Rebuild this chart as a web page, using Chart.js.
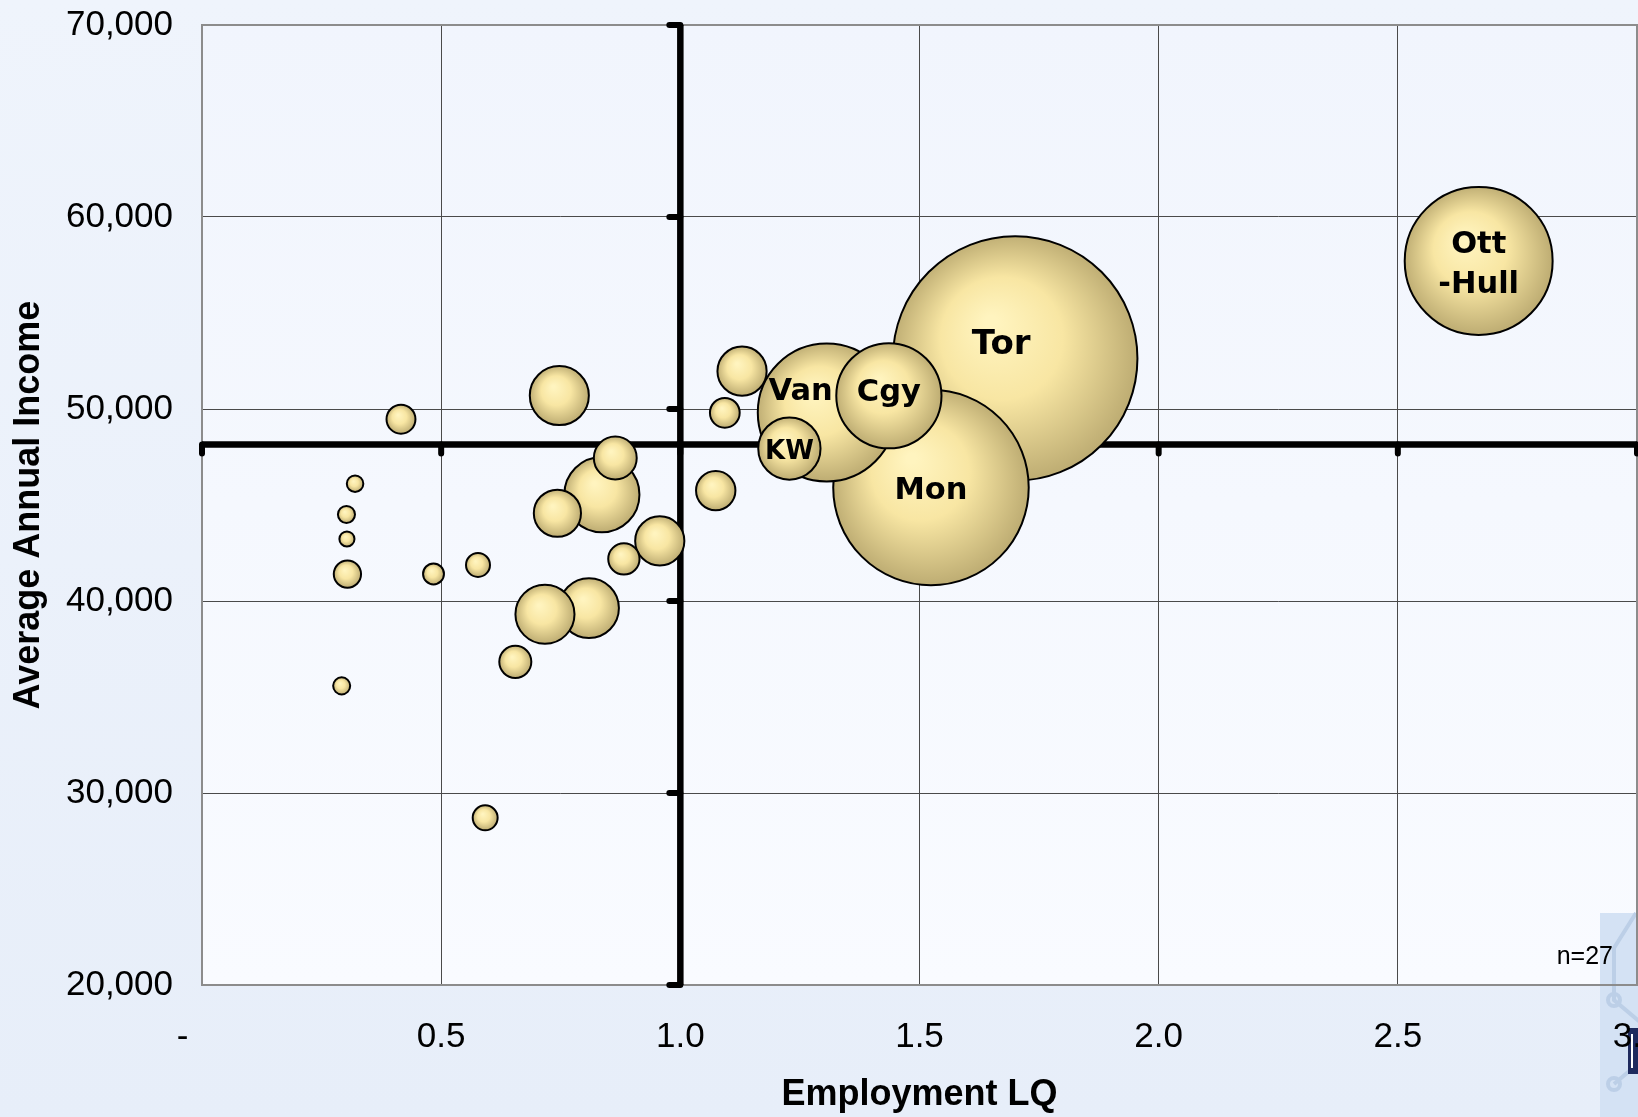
<!DOCTYPE html>
<html>
<head>
<meta charset="utf-8">
<title>Employment LQ vs Average Annual Income</title>
<script src="https://cdn.jsdelivr.net/npm/chart.js@4.4.1/dist/chart.umd.min.js"></script>
<style>
  html, body { margin: 0; padding: 0; }
  body {
    width: 1638px; height: 1117px; overflow: hidden;
    background: linear-gradient(to bottom, #eff4fc 0%, #e7eef9 100%);
  }
  #wrap { position: relative; width: 1638px; height: 1117px; overflow: hidden; }
  #wrap canvas { position: absolute; left: 0; top: 0; }
</style>
</head>
<body>
<div id="wrap"><canvas id="lqChart" width="1700" height="1117"></canvas></div>
<script>
// Metro areas: location quotient, average income, employment (bubble area)
const areaNames = ['Tor', 'Mon', 'Ott\n-Hull', 'Van', 'Cgy', 'KW', '', '', '', '', '', '', '', '',
  '', '', '', '', '', '', '', '', '', '', '', '', ''];
const employmentLQ = [1.70, 1.524, 2.669, 1.306, 1.436, 1.228, 0.836, 0.809, 0.747, 0.717, 0.957, 1.129,
  0.743, 0.864, 1.074, 0.655, 0.882, 1.093, 0.416, 0.304, 0.592, 0.577, 0.484, 0.302, 0.292, 0.320, 0.303];
const avgIncome = [52630, 45910, 57710, 49820, 50690, 47940, 45540, 39630, 50700, 39310, 43130, 51970,
  44570, 47450, 45750, 36830, 42190, 49800, 49470, 41400, 28710, 41880, 41410, 44510, 35580, 46110, 43230];
const jobCount = [603, 387, 223, 194, 114, 41, 59, 38, 37, 37, 26, 26,
  24, 20, 17, 11.5, 11, 10, 9.5, 8.5, 7.2, 6.7, 5.2, 3.6, 3.6, 3.4, 2.9];

const xTicks = [0, 0.5, 1.0, 1.5, 2.0, 2.5, 3.0];
const xTickLabels = ['-', '0.5', '1.0', '1.5', '2.0', '2.5', '3.0'];
const yTicks = [20000, 30000, 40000, 50000, 60000, 70000];
const yTickLabels = ['20,000', '30,000', '40,000', '50,000', '60,000', '70,000'];

const lqCross = 1.0;        // vertical axis crosses at LQ = 1
const incomeCross = 48150;  // horizontal axis crosses at the average income
const sampleNote = 'n=27';

const bubbleScale = 5.02;
const baseFont = '"Liberation Sans", Arial, sans-serif';

// biggest first so the small bubbles end up on top
const order = jobCount.map((_, i) => i).sort((a, b) => jobCount[b] - jobCount[a]);
const points = order.map(i => ({
  x: employmentLQ[i],
  y: avgIncome[i],
  r: Math.sqrt(jobCount[i]) * bubbleScale - 1,
  name: areaNames[i]
}));

// label nudges where neighbours cover the middle of a bubble
const nameShift = { 'Tor': [-14, -17], 'Van': [-26, -24], 'Cgy': [0, -7] };
const nameSize = { 'Tor': 34, 'KW': 26 };

const backdrop = {
  id: 'backdrop',
  beforeDraw(chart) {
    const { ctx, chartArea: a } = chart;
    ctx.save();
    const g = ctx.createLinearGradient(0, a.top, 0, a.bottom);
    g.addColorStop(0, '#f1f5fd');
    g.addColorStop(1, '#f9fbff');
    ctx.fillStyle = g;
    ctx.fillRect(a.left, a.top, a.right - a.left, a.bottom - a.top);

    // corner of the slide logo peeking in
    ctx.fillStyle = '#d4e2f4';
    ctx.fillRect(1600, 913, 100, 204);
    ctx.strokeStyle = '#bccfe7';
    ctx.lineWidth = 4;
    ctx.beginPath();
    ctx.moveTo(1636, 913); ctx.lineTo(1614, 948); ctx.lineTo(1614, 1000); ctx.lineTo(1640, 1022);
    ctx.moveTo(1614, 1084); ctx.lineTo(1640, 1062);
    ctx.stroke();
    ctx.beginPath(); ctx.arc(1614, 1000, 6, 0, Math.PI * 2); ctx.stroke();
    ctx.beginPath(); ctx.arc(1614, 1084, 6, 0, Math.PI * 2); ctx.stroke();
    ctx.fillStyle = '#1f2b5e';
    ctx.fillRect(1628, 1028, 14, 46);
    ctx.fillStyle = '#ffffff';
    ctx.fillRect(1631, 1034, 2, 34);
    ctx.restore();
  }
};

const crossAxes = {
  id: 'crossAxes',
  beforeDatasetsDraw(chart) {
    const { ctx, chartArea: a, scales: { x, y } } = chart;
    ctx.save();
    ctx.strokeStyle = '#8c8c8c';
    ctx.lineWidth = 2;
    ctx.strokeRect(a.left, a.top, a.right - a.left, a.bottom - a.top);

    const xc = x.getPixelForValue(lqCross);
    const yc = y.getPixelForValue(incomeCross);
    ctx.strokeStyle = '#000';
    ctx.lineWidth = 6.5;
    ctx.lineCap = 'butt';
    ctx.beginPath();
    ctx.moveTo(xc, a.top); ctx.lineTo(xc, a.bottom);
    ctx.moveTo(a.left, yc); ctx.lineTo(a.right, yc);
    ctx.stroke();

    ctx.lineWidth = 6;
    ctx.lineCap = 'round';
    ctx.beginPath();
    yTicks.forEach(v => {
      const py = y.getPixelForValue(v);
      ctx.moveTo(xc, py); ctx.lineTo(xc - 11, py);
    });
    xTicks.forEach(v => {
      const px = x.getPixelForValue(v);
      ctx.moveTo(px, yc); ctx.lineTo(px, yc + 9);
    });
    ctx.stroke();
    ctx.restore();
  }
};

const bubbleNames = {
  id: 'bubbleNames',
  afterDatasetsDraw(chart) {
    const { ctx, chartArea: a } = chart;
    const meta = chart.getDatasetMeta(0);
    ctx.save();
    ctx.fillStyle = '#000';
    ctx.textAlign = 'center';
    ctx.textBaseline = 'middle';
    meta.data.forEach((el, i) => {
      const p = points[i];
      if (!p.name) return;
      const shift = nameShift[p.name] || [0, 0];
      const size = nameSize[p.name] || 30.5;
      ctx.font = 'bold ' + size + 'px "DejaVu Sans", Verdana, sans-serif';
      const lines = p.name.split('\n');
      lines.forEach((t, k) => {
        // +4: 'middle' sits a little above the cap centre
        ctx.fillText(t, el.x + shift[0], el.y + shift[1] + 4 + (k - (lines.length - 1) / 2) * 40);
      });
    });
    ctx.font = '25px ' + baseFont;
    ctx.textAlign = 'right';
    ctx.fillText(sampleNote, a.right - 24, a.bottom - 28);
    ctx.restore();
  }
};

function bubbleFill(ctx) {
  const chart = ctx.chart;
  const p = ctx.raw;
  if (!p || !chart.chartArea) return '#f4e3a0';
  const cx = chart.scales.x.getPixelForValue(p.x);
  const cy = chart.scales.y.getPixelForValue(p.y);
  const r = Math.max(p.r, 1);
  const g = chart.ctx.createRadialGradient(cx - r * 0.2, cy - r * 0.3, r * 0.05, cx, cy, r * 1.05);
  g.addColorStop(0, '#fff4bf');
  g.addColorStop(0.45, '#f8e6a3');
  g.addColorStop(1, '#b9a86f');
  return g;
}

// the frame is set by hand, so drop the label overhang Chart.js reserves
function noOverhang(s) {
  s.paddingTop = 0;
  s.paddingBottom = 0;
  s.paddingLeft = 0;
  s.paddingRight = 0;
}

new Chart(document.getElementById('lqChart'), {
  type: 'bubble',
  data: {
    datasets: [{
      data: points,
      backgroundColor: bubbleFill,
      borderColor: '#000',
      borderWidth: 2,
      hoverRadius: 0
    }]
  },
  options: {
    responsive: false,
    animation: false,
    events: [],
    layout: { autoPadding: false, padding: { top: 25, right: 63, left: 0, bottom: 0 } },
    plugins: {
      legend: { display: false },
      tooltip: { enabled: false }
    },
    scales: {
      x: {
        type: 'linear',
        min: 0,
        max: 3,
        afterBuildTicks: s => { s.ticks = xTicks.map(v => ({ value: v })); },
        afterFit: s => { s.height = 132; noOverhang(s); },
        grid: { color: '#4a4a4a', lineWidth: 1, drawTicks: false },
        border: { display: false },
        ticks: {
          padding: 31,
          color: '#000',
          font: { family: baseFont, size: 35 },
          maxRotation: 0,
          callback: (v, i) => i === 0 ? xTickLabels[0] + '    ' : xTickLabels[i]
        },
        title: {
          display: true,
          text: 'Employment LQ',
          color: '#000',
          font: { family: baseFont, size: 36, weight: 'bold' },
          padding: { top: 0, bottom: 0 }
        }
      },
      y: {
        type: 'linear',
        min: 20000,
        max: 70000,
        afterBuildTicks: s => { s.ticks = yTicks.map(v => ({ value: v })); },
        afterFit: s => { s.width = 202; noOverhang(s); },
        grid: { color: '#4a4a4a', lineWidth: 1, drawTicks: false },
        border: { display: false },
        ticks: {
          padding: 29,
          color: '#000',
          font: { family: baseFont, size: 35 },
          callback: (v, i) => yTickLabels[i]
        },
        title: {
          display: true,
          text: 'Average Annual Income',
          color: '#000',
          font: { family: baseFont, size: 36, weight: 'bold' },
          padding: { top: 7, bottom: 0 }
        }
      }
    }
  },
  plugins: [backdrop, crossAxes, bubbleNames]
});
</script>
</body>
</html>
